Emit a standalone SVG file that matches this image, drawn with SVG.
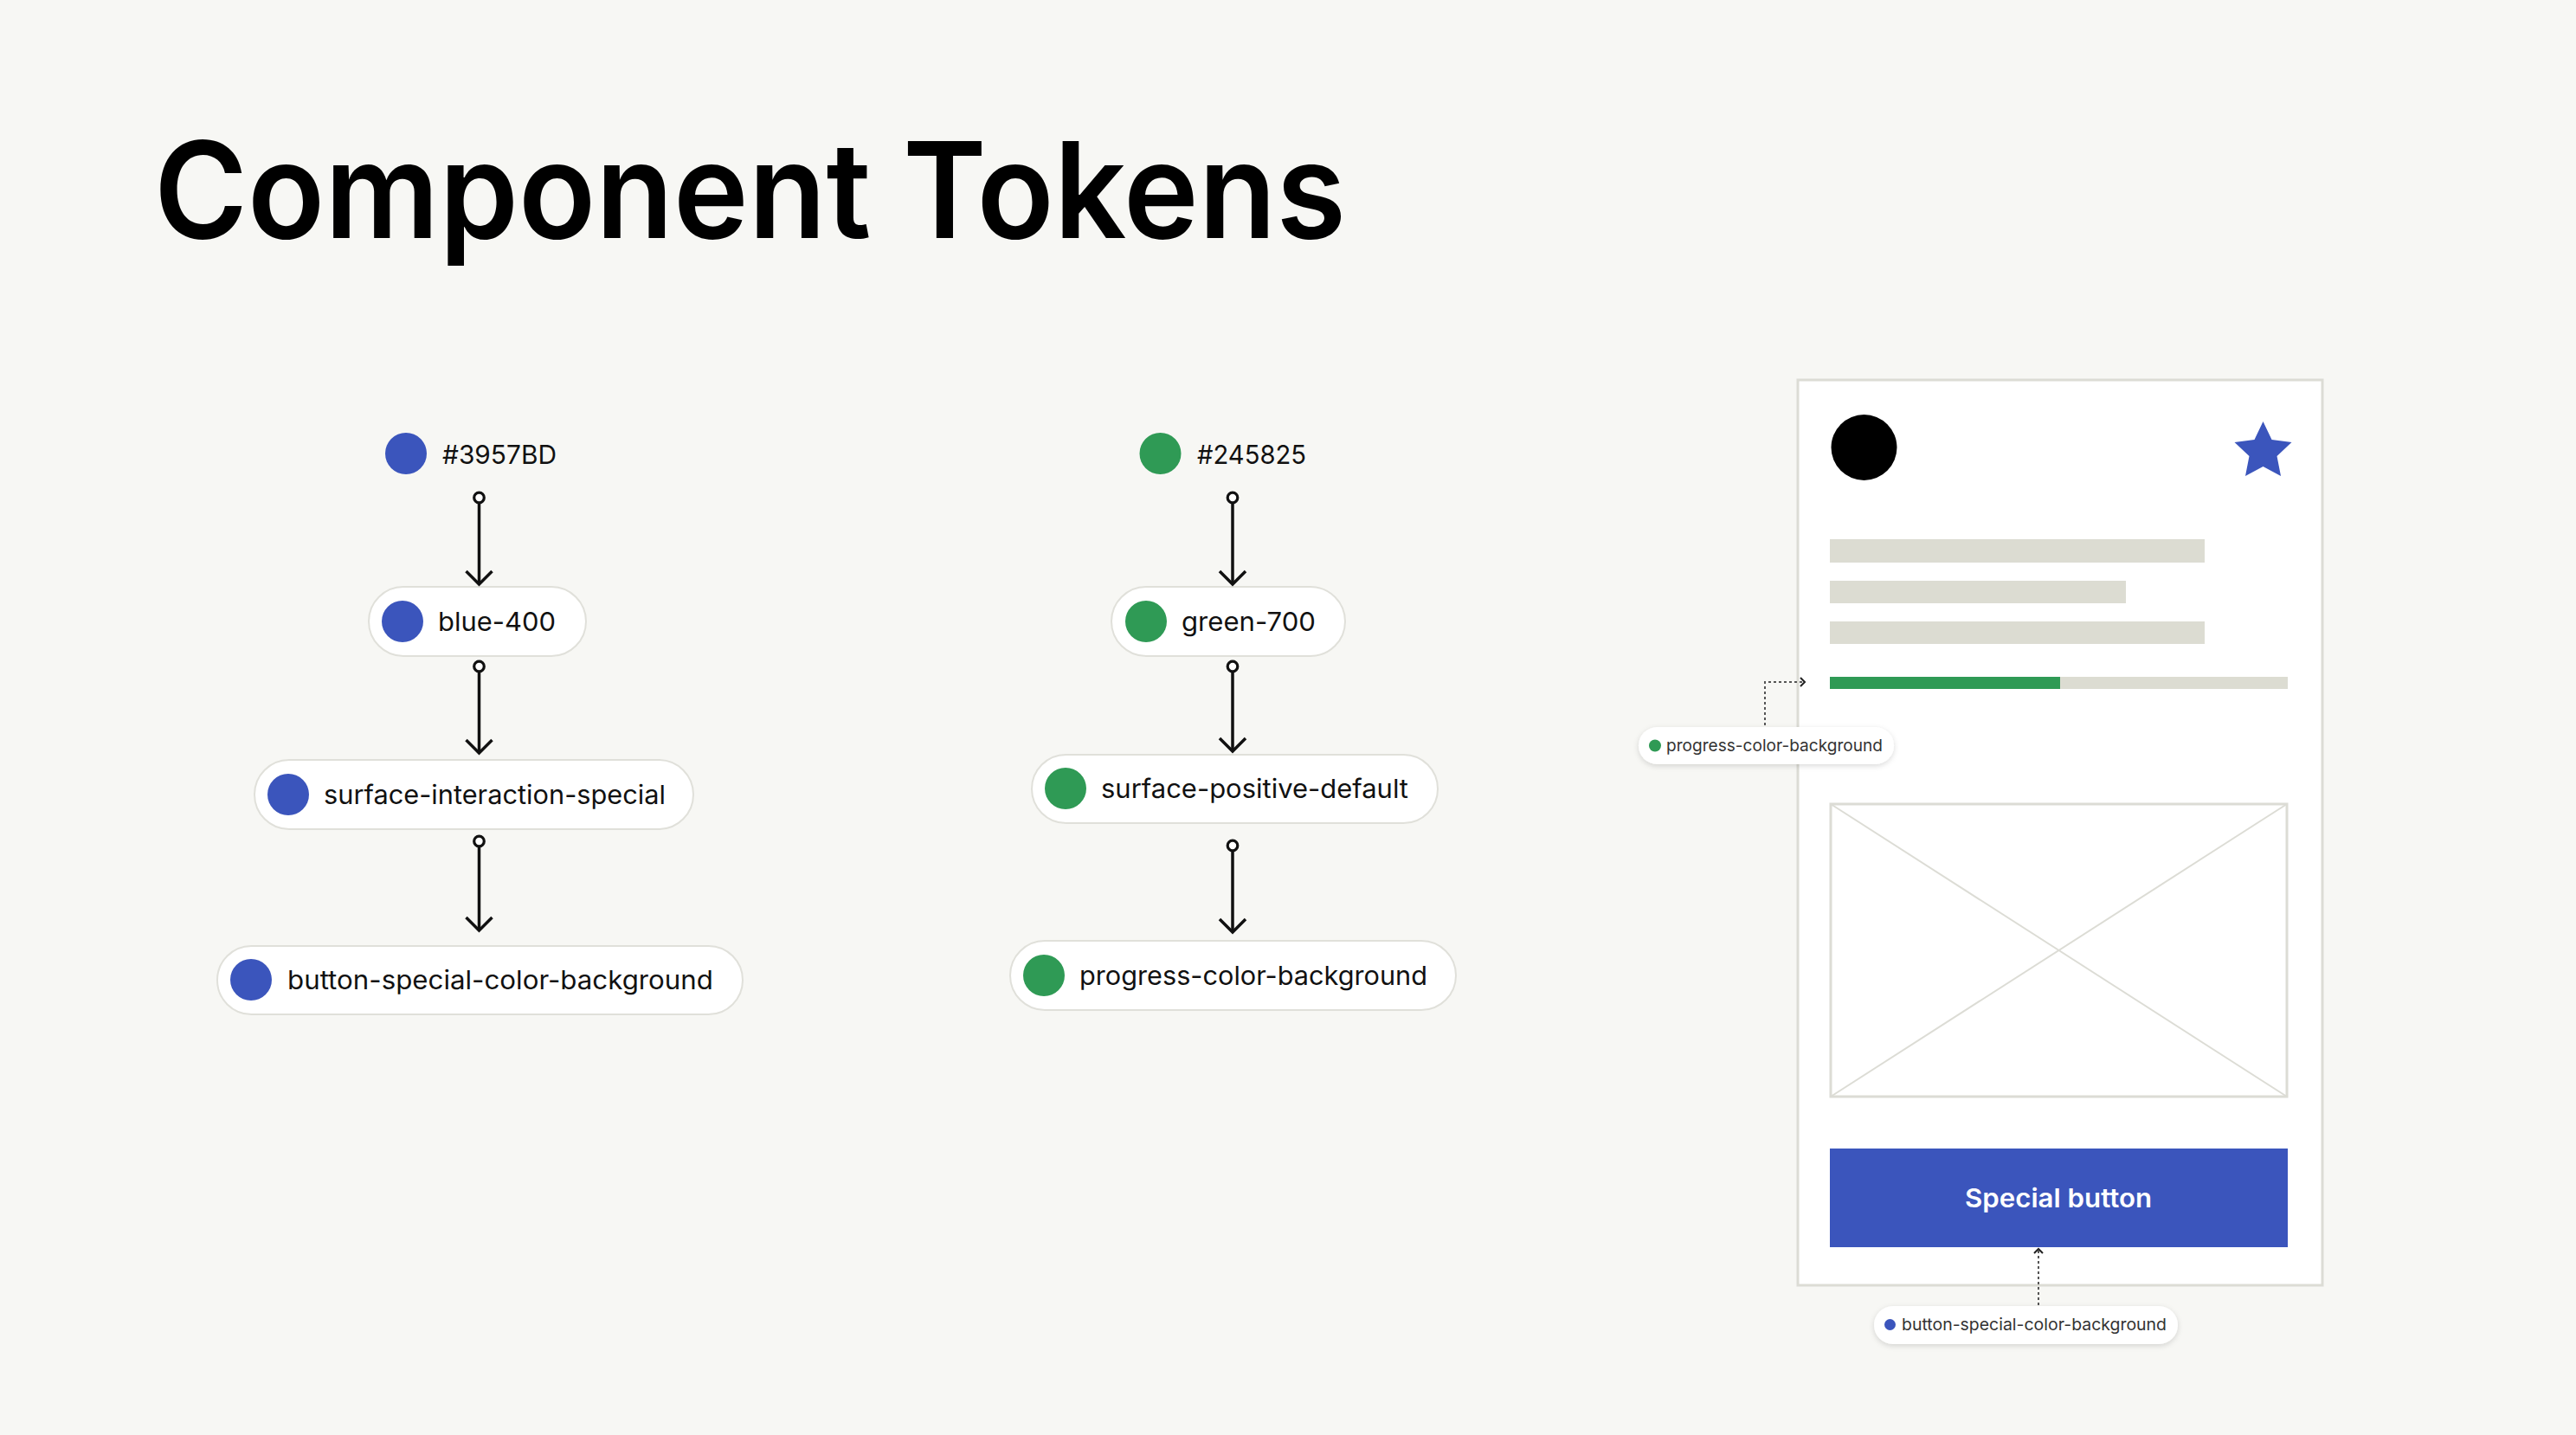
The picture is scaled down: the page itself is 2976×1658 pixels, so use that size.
<svg xmlns="http://www.w3.org/2000/svg" width="2976" height="1658" viewBox="0 0 2976 1658">
  <style>
    .lbl { font-family: Inter, "Liberation Sans", sans-serif; font-size: 30px; fill: #111111; }
    .small { font-family: Inter, "Liberation Sans", sans-serif; font-size: 19px; fill: #333333; }
    .pill { fill: #ffffff; stroke: #e0e0da; stroke-width: 2; }
    .tag { fill: #ffffff; }
    .blue { fill: #3b55bc; }
    .green { fill: #2f9a55; }
    .conn { fill: none; stroke: #111111; stroke-width: 3.5; }
    .dotted { fill: none; stroke: #555555; stroke-width: 2; stroke-dasharray: 3 3; }
    .bar { fill: #dcdcd2; }
  </style>
  <defs>
    <marker id="dot" markerUnits="userSpaceOnUse" viewBox="-10 -10 20 20" markerWidth="20" markerHeight="20" refX="0" refY="0" orient="auto">
      <circle cx="0" cy="0" r="5.8" fill="#ffffff" stroke="#111111" stroke-width="3.2"/>
    </marker>
    <marker id="chev" markerUnits="userSpaceOnUse" viewBox="-20 -20 40 40" markerWidth="40" markerHeight="40" refX="0" refY="0" orient="auto">
      <path d="M-15,-15 L0,0 L-15,15" fill="none" stroke="#111111" stroke-width="3.5"/>
    </marker>
    <marker id="chevs" markerUnits="userSpaceOnUse" viewBox="-10 -10 20 20" markerWidth="20" markerHeight="20" refX="0" refY="0" orient="auto">
      <path d="M-5,-5 L0,0 L-5,5" fill="none" stroke="#222222" stroke-width="2"/>
    </marker>
    <filter id="shadow" x="-10%" y="-40%" width="120%" height="200%">
      <feDropShadow dx="0" dy="2" stdDeviation="3" flood-color="#000000" flood-opacity="0.15"/>
    </filter>
  </defs>

  <rect x="0" y="0" width="2976" height="1658" fill="#f7f7f4"/>

  <text x="178" y="275" font-family="Inter, 'Liberation Sans', sans-serif" font-size="154" font-weight="600" fill="#000000" textLength="1377" lengthAdjust="spacingAndGlyphs">Component Tokens</text>

  <!-- Left column -->
  <g id="hex-blue">
    <circle class="blue" cx="469" cy="524" r="24"/>
    <text class="lbl" x="511" y="536" textLength="132" lengthAdjust="spacingAndGlyphs">#3957BD</text>
  </g>
  <g id="blue-400">
    <rect class="pill" x="426" y="678" width="251" height="80" rx="40"/>
    <circle class="blue" cx="465" cy="718" r="24"/>
    <text class="lbl" x="506" y="729" textLength="136" lengthAdjust="spacingAndGlyphs">blue-400</text>
  </g>
  <g id="surface-interaction-special">
    <rect class="pill" x="294" y="878" width="507" height="80" rx="40"/>
    <circle class="blue" cx="333" cy="918" r="24"/>
    <text class="lbl" x="374" y="929" textLength="395" lengthAdjust="spacingAndGlyphs">surface-interaction-special</text>
  </g>
  <g id="button-special-color-background">
    <rect class="pill" x="251" y="1093" width="607" height="79" rx="39.5"/>
    <circle class="blue" cx="290" cy="1132" r="24"/>
    <text class="lbl" x="332" y="1143" textLength="492" lengthAdjust="spacingAndGlyphs">button-special-color-background</text>
  </g>

  <!-- Middle column -->
  <g id="hex-green">
    <circle class="green" cx="1340.5" cy="524" r="24"/>
    <text class="lbl" x="1383" y="536" textLength="126" lengthAdjust="spacingAndGlyphs">#245825</text>
  </g>
  <g id="green-700">
    <rect class="pill" x="1284" y="678" width="270" height="80" rx="40"/>
    <circle class="green" cx="1324" cy="718" r="24"/>
    <text class="lbl" x="1365" y="729" textLength="155" lengthAdjust="spacingAndGlyphs">green-700</text>
  </g>
  <g id="surface-positive-default">
    <rect class="pill" x="1192" y="872" width="469" height="79" rx="39.5"/>
    <circle class="green" cx="1231" cy="911" r="24"/>
    <text class="lbl" x="1272" y="922" textLength="355" lengthAdjust="spacingAndGlyphs">surface-positive-default</text>
  </g>
  <g id="progress-color-background">
    <rect class="pill" x="1167" y="1087" width="515" height="80" rx="40"/>
    <circle class="green" cx="1206" cy="1127" r="24"/>
    <text class="lbl" x="1247" y="1138" textLength="402" lengthAdjust="spacingAndGlyphs">progress-color-background</text>
  </g>

  <!-- Mockup card -->
  <g id="card">
    <rect x="2077" y="439" width="606" height="1046" fill="#ffffff" stroke="#dcdcd5" stroke-width="3"/>
    <circle cx="2153.5" cy="517" r="38" fill="#000000"/>
    <polygon class="blue" points="2614.5,487 2624.5,508 2647.5,511 2630.5,527 2635,550 2614.5,539 2594,550 2598.5,527 2581.5,511 2604.5,508"/>
    <rect class="bar" x="2114" y="623" width="433" height="27"/>
    <rect class="bar" x="2114" y="671" width="342" height="26"/>
    <rect class="bar" x="2114" y="718" width="433" height="26"/>
    <rect class="bar" x="2114" y="782" width="529" height="14"/>
    <rect class="green" x="2114" y="782" width="266" height="14"/>
    <rect x="2115" y="929" width="527" height="338" fill="#ffffff" stroke="#dcdcd5" stroke-width="3"/>
    <line x1="2115" y1="929" x2="2642" y2="1267" stroke="#dcdcd5" stroke-width="2"/>
    <line x1="2642" y1="929" x2="2115" y2="1267" stroke="#dcdcd5" stroke-width="2"/>
    <rect class="blue" x="2114" y="1327" width="529" height="114"/>
    <text x="2378" y="1395" text-anchor="middle" font-family="Inter, 'Liberation Sans', sans-serif" font-size="30" font-weight="600" fill="#ffffff" textLength="216" lengthAdjust="spacingAndGlyphs">Special button</text>
  </g>

  <g id="tag-progress">
    <rect class="tag" x="1893" y="840" width="295" height="43" rx="21.5" filter="url(#shadow)"/>
    <circle class="green" cx="1912" cy="861.5" r="7"/>
    <text class="small" x="1925" y="868" textLength="250" lengthAdjust="spacingAndGlyphs">progress-color-background</text>
  </g>
  <g id="tag-button">
    <rect class="tag" x="2165" y="1509" width="351" height="44" rx="22" filter="url(#shadow)"/>
    <circle class="blue" cx="2183.5" cy="1530.5" r="6.5"/>
    <text class="small" x="2197" y="1537" textLength="306" lengthAdjust="spacingAndGlyphs">button-special-color-background</text>
  </g>

  <!-- Connectors -->
  <g id="connectors">
    <path class="conn" d="M553.5,575 V675" marker-start="url(#dot)" marker-end="url(#chev)"/>
    <path class="conn" d="M553.5,770 V870" marker-start="url(#dot)" marker-end="url(#chev)"/>
    <path class="conn" d="M553.5,972 V1075" marker-start="url(#dot)" marker-end="url(#chev)"/>
    <path class="conn" d="M1424,575 V675" marker-start="url(#dot)" marker-end="url(#chev)"/>
    <path class="conn" d="M1424,770 V868" marker-start="url(#dot)" marker-end="url(#chev)"/>
    <path class="conn" d="M1424,977 V1077" marker-start="url(#dot)" marker-end="url(#chev)"/>
    <path class="dotted" d="M2039,838 V788 H2085" marker-end="url(#chevs)"/>
    <path class="dotted" d="M2355,1508 V1443" marker-end="url(#chevs)"/>
  </g>
</svg>
